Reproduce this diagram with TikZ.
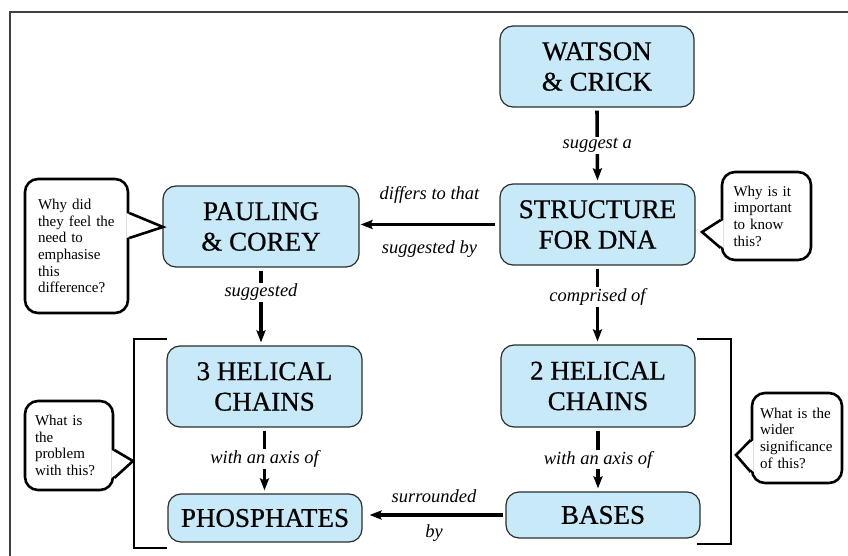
\documentclass[tikz,border=0pt]{standalone}
\usepackage{fontspec}
\setmainfont{Liberation Serif}
\newfontfamily\conceptfont[FakeBold=0.6]{Liberation Serif}
\usetikzlibrary{arrows.meta,calc}
\definecolor{dnablue}{RGB}{200,233,247}
\definecolor{boxline}{RGB}{45,45,45}

\begin{document}
\begin{tikzpicture}[x=1pt,y=-1pt,
  concept/.style={draw=boxline, line width=1.2pt, fill=dnablue, rounded corners=13pt,
    align=center, inner sep=0pt, font=\conceptfont\fontsize{27}{30.5}\selectfont},
  link/.style={fill=white, inner sep=1.5pt, font=\itshape\fontsize{18.5}{20}\selectfont},
  flow/.style={line width=3.6pt, -{Stealth[length=12pt,width=9pt,inset=2pt]},
    shorten <=3pt, shorten >=3pt},
  note/.style={draw, line width=2.6pt, rounded corners=13pt, fill=white,
    align=left, inner sep=0pt, font=\fontsize{15}{16.7}\selectfont},
  pointer/.style={line width=2.6pt, line join=miter},
  bracket/.style={line width=2.8pt}]

\useasboundingbox (0,0) rectangle (848,556);
\draw[black!75, line width=1.2pt] (10,556) -- (10,12) -- (848,12);

\begin{scope}
\node[concept, minimum width=194pt, minimum height=81pt] (wc) at (597,66.5) {WATSON\\\& CRICK};
\node[concept, minimum width=195pt, minimum height=81pt] (sd) at (597.5,224.5) {STRUCTURE\\FOR DNA};
\node[concept, minimum width=196pt, minimum height=81pt] (pc) at (261,226.5) {PAULING\\\& COREY};
\node[concept, minimum width=195pt, minimum height=81pt] (hc3) at (264.5,386.5) {3 HELICAL\\CHAINS};
\node[concept, minimum width=194pt, minimum height=82pt] (hc2) at (598,386) {2 HELICAL\\CHAINS};
\node[concept, minimum width=194pt, minimum height=48pt] (ph) at (265,518) {PHOSPHATES};
\node[concept, minimum width=194pt, minimum height=46pt] (bs) at (603,515) {BASES};
\end{scope}

\begin{scope}[flow]
\draw (wc.south) -- (sd.north) node [link, midway] (l1) {suggest a};
\draw[shorten <=4pt, shorten >=1pt] (sd.west) -- (sd.west -| pc.east)
  node [link, midway, above=18pt, fill=none] (l2a) {differs to that}
  node [link, midway, below=13pt, fill=none] (l2b) {suggested by};
\draw (pc.south) -- (pc.south |- hc3.north) node [link, pos=0.32] (l3) {suggested};
\draw (sd.south) -- (sd.south |- hc2.north) node [link, pos=0.4] (l4) {comprised of};
\draw (hc3.south) -- (hc3.south |- ph.north) node [link, pos=0.47] (l5) {with an axis of};
\draw (hc2.south) -- (hc2.south |- bs.north) node [link, pos=0.5] (l6) {with an axis of};
\draw[shorten <=2pt, shorten >=7pt] (bs.west) -- (bs.west -| ph.east)
  node [link, midway, above=9pt, fill=none] (l7a) {surrounded}
  node [link, midway, below=6pt, fill=none] (l7b) {by};
\end{scope}

\begin{scope}[bracket]
\draw (167,339) -- (134,339) -- (134,548) -- (167,548);
\draw (697,339) -- (731,339) -- (731,544) -- (697,544);
\end{scope}

\node[note, minimum width=103pt, minimum height=134pt, text width=77pt] (q1) at (76.5,246)
  {Why did\\they feel the\\need to\\emphasise\\this\\difference?};
\node[note, minimum width=89pt, minimum height=88pt, text width=66pt] (q2) at (766.5,216)
  {Why is it\\important\\to know\\this?};
\node[note, minimum width=88pt, minimum height=89pt, text width=68pt] (q3) at (69,445.5)
  {What is\\the\\problem\\with this?};
\node[note, minimum width=90pt, minimum height=90pt, text width=74pt] (q4) at (797,438)
  {What is the\\wider\\significance\\of this?};

\coordinate (t1) at (163,227);
\coordinate (t2) at (702,232);
\coordinate (t3) at (133,461);
\coordinate (t4) at (736,455);

\fill[white] ($(q1.east |- 0,213)+(-3,0)$) -- (t1) -- ($(q1.east |- 0,238)+(-3,0)$) -- cycle;
\draw[pointer] (q1.east |- 0,213) -- (t1) -- (q1.east |- 0,238);
\fill[white] ($(q2.west |- 0,220)+(3,0)$) -- (t2) -- ($(q2.west |- 0,248)+(3,0)$) -- cycle;
\draw[pointer] (q2.west |- 0,220) -- (t2) -- (q2.west |- 0,248);
\fill[white] ($(q3.east |- 0,450)+(-3,0)$) -- (t3) -- ($(q3.east |- 0,478)+(-3,0)$) -- cycle;
\draw[pointer] (q3.east |- 0,450) -- (t3) -- (q3.east |- 0,478);
\fill[white] ($(q4.west |- 0,440)+(3,0)$) -- (t4) -- ($(q4.west |- 0,472)+(3,0)$) -- cycle;
\draw[pointer] (q4.west |- 0,440) -- (t4) -- (q4.west |- 0,472);

\end{tikzpicture}
\end{document}
